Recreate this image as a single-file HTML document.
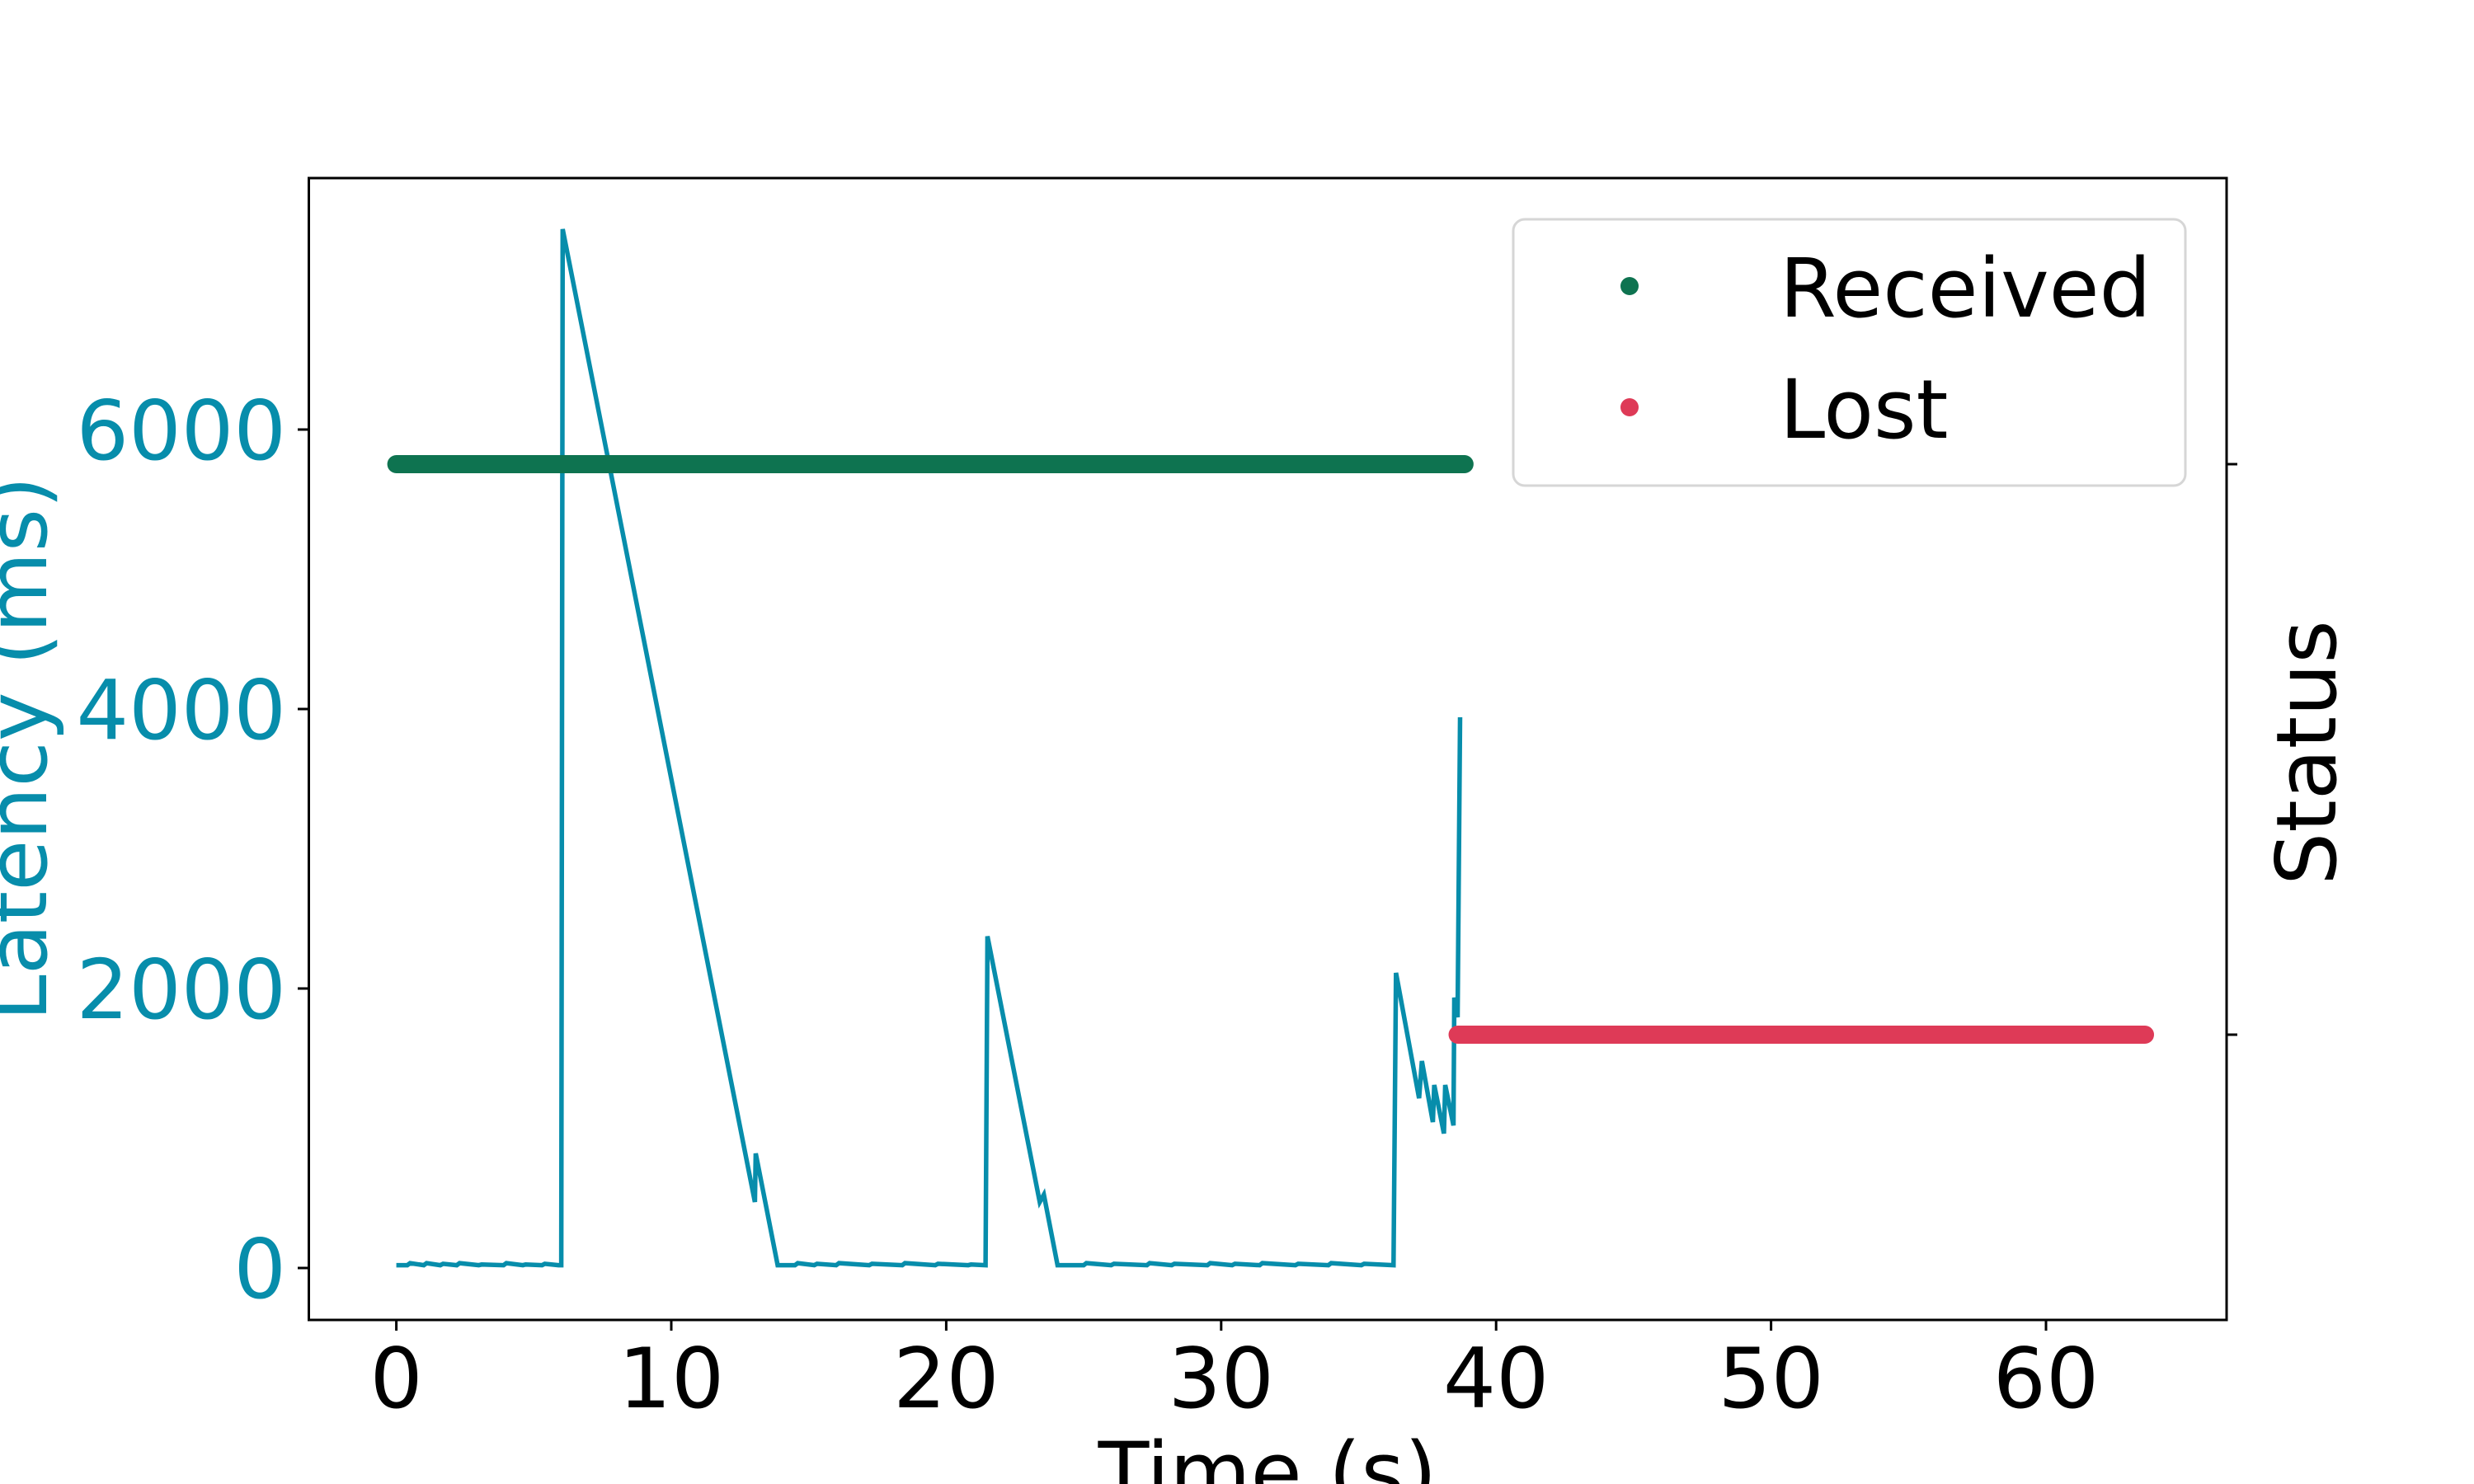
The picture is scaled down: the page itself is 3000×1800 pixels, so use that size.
<!DOCTYPE html>
<html><head><meta charset="utf-8"><style>
html,body{margin:0;padding:0;background:#fff;}
svg{display:block;font-family:"DejaVu Sans","Liberation Sans",sans-serif;}
</style></head><body>
<svg id="chart" width="3000" height="1800" viewBox="0 0 3000 1800">
<rect x="0" y="0" width="3000" height="1800" fill="#fff"/>
<g id="plot"></g>
<g id="axes"></g>
</svg>
<script>
const xTicks = [0, 10, 20, 30, 40, 50, 60];
const yTicks = [0, 2000, 4000, 6000];
const latencyT = [0,0.4,0.5,1.0,1.1,1.6,1.7,2.2,2.3,3.0,3.1,3.9,4.0,4.6,4.7,5.3,5.4,5.9,6.0,6.05,13.04,13.07,13.87,14.5,14.6,15.2,15.3,16.0,16.1,17.2,17.3,18.4,18.5,19.6,19.7,20.8,20.9,21.43,21.5,23.4,23.55,24.05,25.0,25.1,26.0,26.1,27.3,27.4,28.2,28.3,29.5,29.6,30.4,30.5,31.4,31.5,32.7,32.8,33.9,34.0,35.1,35.2,36.27,36.36,37.2,37.3,37.7,37.75,38.1,38.15,38.45,38.48,38.6,38.69];
const latencyMs = [20,20,35,20,35,20,30,20,35,20,25,20,35,20,25,20,30,20,20,7434,472,820,20,20,35,20,30,20,35,20,30,20,35,20,30,20,25,20,2374,472,525,20,20,35,20,30,20,35,20,30,20,35,20,30,20,35,20,30,20,35,20,30,20,2112,1215,1481,1044,1310,962,1310,1020,1935,1794,3941];
const statusNames = ["Received", "Lost"];
const statusStart = [0, 38.6];
const statusEnd = [38.85, 63.6];
const statusColors = ["#0e7350", "#de3a57"];

const X0 = 480.6, XS = 33.34, Y0 = 1538, YS = 339/2000;
const sx = t => X0 + t * XS;
const sy = v => Y0 - v * YS;
const statusY = i => [563, 1255][i];
const NS = "http://www.w3.org/2000/svg";
function mk(tag, attrs, parent) { const e = document.createElementNS(NS, tag); for (const k in attrs) e.setAttribute(k, attrs[k]); parent.appendChild(e); return e; }
const plot = document.getElementById('plot');
const axes = document.getElementById('axes');

let d = latencyT.map((t, i) => (i ? 'L' : 'M') + sx(t).toFixed(1) + ' ' + sy(latencyMs[i]).toFixed(1)).join(' ');
const line = mk('path', {d: d, fill: 'none', stroke: '#078dab', 'stroke-width': 5.5, 'stroke-linejoin': 'miter'}, plot);



statusNames.forEach((n, i) => {
  const s = mk('line', {x1: sx(statusStart[i]), x2: sx(statusEnd[i]), y1: statusY(i), y2: statusY(i), stroke: statusColors[i], 'stroke-width': 22, 'stroke-linecap': 'round'}, plot);
  
  
});

const fr = mk('rect', {x: 374.5, y: 216, width: 2325.5, height: 1385, fill: 'none', stroke: '#000', 'stroke-width': 3}, axes);



xTicks.forEach(t => {
  const tk = mk('line', {x1: sx(t), x2: sx(t), y1: 1601, y2: 1614, stroke: '#000', 'stroke-width': 3}, axes);
  
  
  const tx = mk('text', {x: sx(t), y: 1707, 'text-anchor': 'middle', 'font-size': 101, fill: '#000'}, axes);
  tx.textContent = t;
  
  
});
yTicks.forEach(v => {
  const tk = mk('line', {x1: 361, x2: 374.5, y1: sy(v), y2: sy(v), stroke: '#000', 'stroke-width': 3}, axes);
  
  
  const tx = mk('text', {x: 347, y: sy(v) + 36, 'text-anchor': 'end', 'font-size': 100, fill: '#078dab'}, axes);
  tx.textContent = v;
  
  
});
[0, 1].forEach(i => {
  const tk = mk('line', {x1: 2700, x2: 2713, y1: statusY(i), y2: statusY(i), stroke: '#000', 'stroke-width': 3}, axes);
  
  
});
</script>
<svg style="position:absolute;left:0;top:0" width="3000" height="1800">
<text x="1537" y="1821" text-anchor="middle" font-size="101" fill="#000" font-family="DejaVu Sans, Liberation Sans, sans-serif">Time (s)</text>
<text transform="translate(56,908) rotate(-90)" text-anchor="middle" font-size="101" fill="#078dab" font-family="DejaVu Sans, Liberation Sans, sans-serif">Latency (ms)</text>
<text transform="translate(2832,913) rotate(-90)" text-anchor="middle" font-size="101" fill="#000" font-family="DejaVu Sans, Liberation Sans, sans-serif">Status</text>
<g>
<rect x="1835" y="266" width="815" height="323" rx="14" fill="#fff" fill-opacity="0.8" stroke="#d6d6d6" stroke-width="3"/>
<circle cx="1976" cy="347" r="11" fill="#0e7350"/>
<text x="2158" y="384" font-size="99" fill="#000" font-family="DejaVu Sans, Liberation Sans, sans-serif">Received</text>
<circle cx="1976" cy="494" r="11" fill="#de3a57"/>
<text x="2158" y="531" font-size="99" fill="#000" font-family="DejaVu Sans, Liberation Sans, sans-serif">Lost</text>
</g>
</svg>
</body></html>
